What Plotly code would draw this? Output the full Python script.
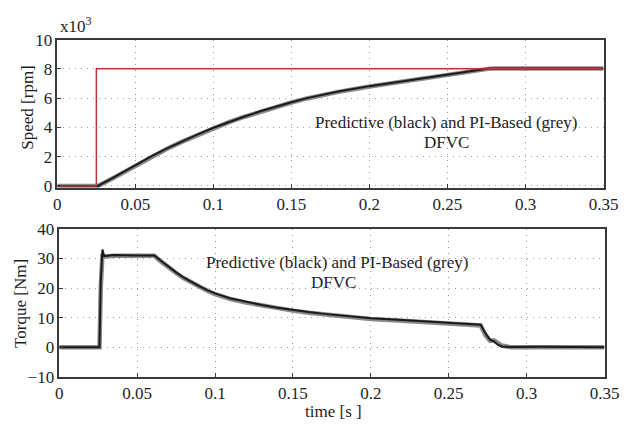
import plotly.graph_objects as go

# ---- data (speed in x10^3 rpm, torque in Nm, time in s) ----
t_ref = [0.0, 0.025, 0.025, 0.35]
speed_ref = [0.0, 0.0, 8.0, 8.0]

t_speed = [0.0, 0.026, 0.035, 0.045, 0.05, 0.061, 0.07, 0.08, 0.09, 0.10,
           0.11, 0.12, 0.13, 0.14, 0.15, 0.16, 0.18, 0.20, 0.22, 0.24,
           0.25, 0.26, 0.27, 0.276, 0.28, 0.30, 0.35]
speed_pred = [0.0, 0.0, 0.52, 1.12, 1.42, 2.07, 2.55, 3.05, 3.52, 3.98,
              4.38, 4.75, 5.10, 5.42, 5.72, 6.00, 6.45, 6.82, 7.15, 7.45,
              7.62, 7.78, 7.93, 8.02, 8.03, 8.02, 8.02]
speed_pi = [0.0, 0.0, 0.50, 1.10, 1.40, 2.05, 2.53, 3.03, 3.50, 3.96,
            4.36, 4.73, 5.08, 5.40, 5.70, 5.98, 6.43, 6.80, 7.13, 7.43,
            7.60, 7.76, 7.91, 8.00, 8.03, 8.02, 8.02]

t_torque = [0.0, 0.0258, 0.0266, 0.0277, 0.0287, 0.035, 0.05, 0.061,
            0.065, 0.07, 0.075, 0.08, 0.085, 0.09, 0.095, 0.10, 0.11,
            0.12, 0.13, 0.14, 0.15, 0.16, 0.17, 0.18, 0.19, 0.20, 0.22,
            0.24, 0.26, 0.2705, 0.2735, 0.2765, 0.279, 0.2815, 0.284,
            0.29, 0.31, 0.33, 0.35]
torque_pred = [0.0, 0.0, 22.0, 33.0, 30.8, 31.2, 31.0, 31.0,
               29.3, 27.2, 25.3, 23.5, 22.0, 20.6, 19.3, 18.2, 16.5,
               15.3, 14.3, 13.4, 12.6, 11.9, 11.3, 10.8, 10.3, 9.8, 9.2,
               8.6, 8.0, 7.6, 4.8, 2.6, 2.0, 0.9, 0.3,
               0.1, 0.2, 0.0, 0.0]
torque_pi = [0.0, 0.0, 20.0, 31.5, 30.6, 30.9, 30.9, 30.9,
             29.1, 27.0, 25.1, 23.3, 21.8, 20.4, 19.1, 18.0, 16.3,
             15.1, 14.1, 13.2, 12.4, 11.7, 11.1, 10.6, 10.1, 9.6, 9.0,
             8.4, 7.8, 7.4, 4.2, 2.2, 2.4, 1.4, 0.6,
             0.0, 0.1, 0.1, 0.0]

x_ticks = [0, 0.05, 0.1, 0.15, 0.2, 0.25, 0.3, 0.35]
x_ticktext = ["0", "0.05", "0.1", "0.15", "0.2", "0.25", "0.3", "0.35"]
speed_ticks = [0, 2, 4, 6, 8, 10]
torque_ticks = [-10, 0, 10, 20, 30, 40]

note_line1 = "Predictive (black) and PI-Based (grey)"
note_line2 = "DFVC"

FONT = "Liberation Serif"
TXT = "#1e1e1e"

fig = go.Figure()

# speed: PI (grey, wide) under predictive (black)
fig.add_trace(go.Scatter(x=t_speed, y=speed_pi, mode="lines",
                         line=dict(color="#8a8a8a", width=4.5),
                         xaxis="x", yaxis="y", showlegend=False))
fig.add_trace(go.Scatter(x=t_speed, y=speed_pred, mode="lines",
                         line=dict(color="#1a1a1a", width=2),
                         xaxis="x", yaxis="y", showlegend=False))
fig.add_trace(go.Scatter(x=t_ref, y=speed_ref, mode="lines",
                         line=dict(color="#b4383a", width=1.5),
                         xaxis="x", yaxis="y", showlegend=False))

# torque
fig.add_trace(go.Scatter(x=t_torque, y=torque_pi, mode="lines",
                         line=dict(color="#8a8a8a", width=4.5),
                         xaxis="x2", yaxis="y2", showlegend=False))
fig.add_trace(go.Scatter(x=t_torque, y=torque_pred, mode="lines",
                         line=dict(color="#1a1a1a", width=2),
                         xaxis="x2", yaxis="y2", showlegend=False))

W, H = 636, 430

def px_x(p):
    return p / W

def px_y(p):
    return 1 - p / H

axis_common = dict(
    showline=True, mirror=True, linecolor="#3a3a3a", linewidth=1.5,
    showgrid=True, gridcolor="#9a9a9a", gridwidth=1, griddash="1px,5px",
    zeroline=False, ticks="inside", ticklen=4, tickcolor="#3a3a3a",
    tickfont=dict(family=FONT, size=17, color=TXT),
)

fig.update_layout(
    width=W, height=H,
    margin=dict(l=0, r=0, t=0, b=0),
    paper_bgcolor="white", plot_bgcolor="white",
    xaxis=dict(domain=[px_x(55), px_x(618)], range=[0, 0.35],
               tickvals=x_ticks, ticktext=x_ticktext, anchor="y",
               **axis_common),
    yaxis=dict(domain=[px_y(187), px_y(32)], range=[-0.12, 10],
               tickvals=speed_ticks, anchor="x", **axis_common),
    xaxis2=dict(domain=[px_x(57), px_x(619)], range=[0, 0.35],
                tickvals=x_ticks, ticktext=x_ticktext, anchor="y2",
                **axis_common),
    yaxis2=dict(domain=[px_y(385), px_y(230)], range=[-10, 40],
                tickvals=torque_ticks, anchor="x2", **axis_common),
)

ann_font = dict(family=FONT, size=17, color=TXT)
annotations = [
    dict(text="x10<sup>3</sup>", x=px_x(56), y=px_y(17), xanchor="left",
         yanchor="middle", font=ann_font),
    dict(text="Speed [rpm]", x=px_x(24), y=px_y(103), textangle=-90,
         xanchor="center", yanchor="middle", font=ann_font),
    dict(text="Torque [Nm]", x=px_x(17), y=px_y(308), textangle=-90,
         xanchor="center", yanchor="middle", font=ann_font),
    dict(text="time [s ]", x=px_x(340), y=px_y(421), xanchor="center",
         yanchor="middle", font=ann_font),
    dict(text=note_line1, x=px_x(456), y=px_y(119), xanchor="center",
         yanchor="middle", font=ann_font),
    dict(text=note_line2, x=px_x(456), y=px_y(140), xanchor="center",
         yanchor="middle", font=ann_font),
    dict(text=note_line1, x=px_x(343), y=px_y(265), xanchor="center",
         yanchor="middle", font=ann_font),
    dict(text=note_line2, x=px_x(340), y=px_y(286), xanchor="center",
         yanchor="middle", font=ann_font),
]
for a in annotations:
    a.update(xref="paper", yref="paper", showarrow=False)
fig.update_layout(annotations=annotations)

fig.write_html("out.html")
